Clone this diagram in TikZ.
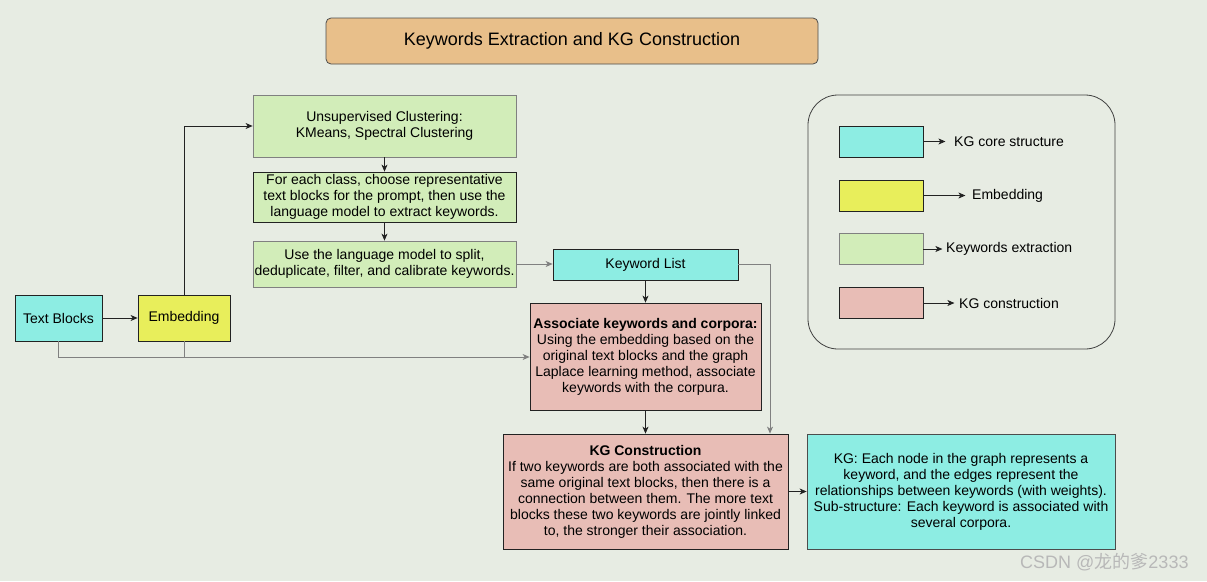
\documentclass[tikz,border=0pt]{standalone}
\usepackage{fontspec}
\setmainfont{Liberation Sans}
\newfontfamily\cjk{Noto Sans CJK SC}
\usetikzlibrary{arrows.meta,positioning}
\definecolor{bgc}{HTML}{E7ECE3}
\definecolor{cyanc}{HTML}{8DEDE3}
\definecolor{yelc}{HTML}{E8EE5B}
\definecolor{grnc}{HTML}{D2EDB9}
\definecolor{pinkc}{HTML}{E8BDB6}
\definecolor{orac}{HTML}{E8BF8A}
\definecolor{linec}{HTML}{222222}
\definecolor{greyline}{HTML}{808080}
\tikzset{
  box/.style={draw=linec, line width=0.8pt, inner sep=0pt, align=center, font=\fontsize{14}{16}\selectfont},
  cbox/.style={box, fill=cyanc},
  ybox/.style={box, fill=yelc},
  gbox/.style={box, fill=grnc},
  pbox/.style={box, fill=pinkc},
  arr/.style={draw=linec, line width=0.7pt, -{Stealth[length=7pt,width=6pt,inset=2pt]}},
  garr/.style={draw=greyline, line width=0.7pt, -{Stealth[length=7pt,width=6pt,inset=2pt]}},
  ln/.style={draw=greyline, line width=0.7pt},
  legtxt/.style={font=\fontsize{14}{16}\selectfont, anchor=west, inner sep=0pt},
}
\begin{document}
\begin{tikzpicture}[x=1pt,y=-1pt]
\fill[bgc] (0,0) rectangle (1207,581);
\useasboundingbox (0,0) rectangle (1207,581);

% title
\node[box, fill=orac, draw=black!70, rounded corners=5pt, minimum width=492pt, minimum height=46pt, font=\fontsize{18}{21}\selectfont] (title) at (572,41) {Keywords Extraction and KG Construction};

% left column
\node[gbox, draw=greyline, minimum width=263pt, minimum height=62pt] (uc) at (384.5,126) {Unsupervised Clustering:\\KMeans, Spectral Clustering};
\node[gbox, minimum width=263pt, minimum height=50pt] (fe) at (384.5,197) {For each class, choose representative\\text blocks for the prompt, then use the\\language model to extract keywords.};
\node[gbox, draw=greyline, minimum width=263pt, minimum height=46pt] (ul) at (384.5,264) {Use the language model to split,\\deduplicate, filter, and calibrate keywords.};
\node[cbox, minimum width=87pt, minimum height=46pt] (tb) at (58.5,318) {Text Blocks};
\node[ybox, minimum width=92pt, minimum height=46pt] (em) at (184,318) {Embedding};

% middle
\node[cbox, minimum width=185pt, minimum height=31pt] (kl) at (645.5,264.5) {Keyword List};
\node[pbox, minimum width=231pt, minimum height=107pt] (as) at (645.5,356.5) {\textbf{Associate keywords and corpora:}\\Using the embedding based on the\\original text blocks and the graph\\Laplace learning method, associate\\keywords with the corpura.};
\node[pbox, minimum width=285pt, minimum height=115pt] (kc) at (645.5,491.5) {\textbf{KG Construction}\\If two keywords are both associated with the\\same original text blocks, then there is a\\connection between them. The more text\\blocks these two keywords are jointly linked\\to, the stronger their association.};
\node[cbox, draw=black!70, minimum width=308pt, minimum height=115pt] (kg) at (961,491.5) {KG: Each node in the graph represents a\\keyword, and the edges represent the\\relationships between keywords (with weights).\\Sub-structure: Each keyword is associated with\\several corpora.};

% legend
\node[draw=black!75, line width=0.8pt, rounded corners=30pt, minimum width=307pt, minimum height=254pt, inner sep=0pt] (leg) at (961.5,222) {};
\node[cbox, minimum width=84pt, minimum height=31pt] (l1) at (881,141.5) {};
\node[ybox, minimum width=84pt, minimum height=31pt] (l2) at (881,195.5) {};
\node[gbox, draw=greyline, minimum width=84pt, minimum height=31pt] (l3) at (881,249) {};
\node[pbox, minimum width=84pt, minimum height=31pt] (l4) at (881,303) {};
\node[legtxt] (t1) at (954,142) {KG core structure};
\node[legtxt] (t2) at (972,195.5) {Embedding};
\node[legtxt] (t3) at (946,249) {Keywords extraction};
\node[legtxt] (t4) at (959,303) {KG construction};
\draw[arr] (l1.east) -- ++(22,0) coordinate (a1);
\draw[arr] (l2.east) -- ++(42,0) coordinate (a2);
\draw[arr] (l3.east) -- ++(19,0) coordinate (a3);
\draw[arr] (l4.east) -- ++(31,0) coordinate (a4);

% connectors
\draw[arr] (tb.east) -- (em.west);
\draw[arr] (em.north) |- (uc.west);
\draw[arr] (uc.south) -- (fe.north);
\draw[arr] (fe.south) -- (ul.north);
\draw[garr] (ul.east) -- (ul.east -| kl.west);
\draw[arr] (kl.south) -- (as.north);
\coordinate (klc) at (770,0);
\draw[garr] (kl.east) -| (klc |- kc.north);
\coordinate (jn) at (0,357);
\draw[garr] (tb.south) |- (as.west |- jn);
\draw[ln] (em.south) -- (em.south |- jn);
\draw[arr] (as.south) -- (kc.north);
\draw[arr] (kc.east) -- (kg.west);

% watermark
\node[anchor=west, inner sep=0pt, text=black!28, font=\fontsize{18}{21}\selectfont] (wm) at (1020,562) {CSDN @{\cjk 龙的爹}2333};
\end{tikzpicture}
\end{document}
